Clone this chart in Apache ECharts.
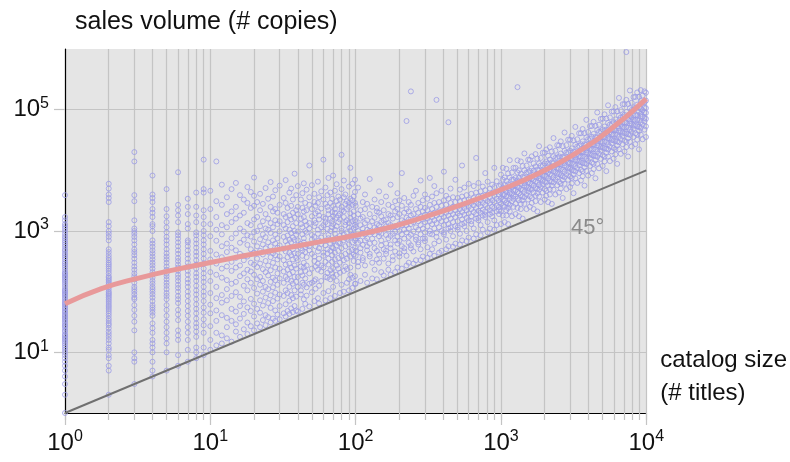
<!DOCTYPE html>
<html>
<head>
<meta charset="utf-8">
<script src="https://cdn.jsdelivr.net/npm/echarts@6/dist/echarts.min.js"></script>
<style>html,body{margin:0;padding:0;background:#fff;}#c{width:790px;height:462px;}</style>
</head>
<body>
<div id="c"></div>
<script>
// ---------- data ----------
// rows: [catalogSize, salesVolume, salesVolume, ...]
const lowCols = [
 [1, 1,2,3,4,5,6,7,8,9,10,11,12,13,14,15,16,17,18,19,20,22,23,25,27,28,30,32,34,36,38,40,42,45,47,50,53,56,60,63,66,70,75,80,85,90,95,100,105,110,120,130,140,150,160,170,180,190,200,210,230,250,270,290,310,340,370,400,430,470,500,550,600,650,700,760,820,900,1000,1100,1200,1300,1500,1700,3900],
 [2, 2,5,6,8,9,11,12,14,16,18,20,22,25,28,30,33,36,40,44,48,52,56,60,65,70,75,80,85,90,95,100,110,120,130,140,150,160,170,180,200,220,240,260,280,300,330,360,400,450,500,700,800,900,1000,1200,1400,3000,3500,4000,5000,6000],
 [3, 3,7,8,10,23,32,40,50,60,75,80,90,100,110,120,140,160,180,200,230,260,300,350,400,450,500,600,700,800,900,1000,1100,1500,3100,3900,14000,20000],
 [4, 4,5,7,10,12,14,16,21,25,30,40,45,50,55,60,70,80,90,100,110,120,135,150,170,190,210,240,270,300,340,380,430,480,550,620,700,1000,1200,1300,1700,2000,2300,3000,3500,4000,8200],
 [5, 5,10,14,17,21,26,32,40,50,60,75,85,95,110,125,140,160,180,200,230,260,300,340,380,430,500,600,700,800,950,1150,1400,1750,2300,4900],
 [6, 6,9,16,19,23,34,42,50,65,75,85,100,115,130,150,170,190,220,250,280,320,360,420,480,560,650,750,850,950,1400,1800,2200,2700,9300],
 [7, 7,11,16,21,26,32,40,48,58,70,85,100,120,140,160,190,220,260,300,350,410,480,560,650,700,1100,1300,1900,2500,3400],
 [8, 8,10,12,18,22,26,30,36,44,52,62,75,90,105,125,150,175,200,240,280,330,390,450,530,620,720,850,950,1400,1800,2500,4300],
 [9, 9,12,21,28,35,45,55,70,85,100,120,145,170,200,240,290,350,420,500,600,700,850,1000,1300,1700,2200,4300,4900,15000]
];
const decade1Rows = [
 [10, 11,16,27,44,61,95,150,210,340,470,820,1300,2300,4600],
 [11, 13,21,33,49,78,120,190,290,410,690,1050,1700,3100,14000],
 [12, 14,19,41,66,88,170,240,370,560,880,1250,2700,5800],
 [13, 17,26,37,72,110,155,260,450,620,1150,1900,3600],
 [14, 15,33,52,85,135,220,310,530,760,1400,2100,4900],
 [15, 22,29,47,98,145,250,360,480,910,1600,2500,6200],
 [16, 18,36,58,82,180,270,420,640,1100,1800,3900],
 [17, 24,43,69,125,200,330,390,720,980,2000,3300],
 [18, 20,31,55,105,160,230,380,590,850,1350,2900,5300],
 [19, 27,48,76,140,215,300,500,810,1250,2400,4400],
 [20, 23,39,63,115,190,280,440,670,960,1550,2600,3800,7600],
 [21, 30,52,93,160,255,350,560,1000,1700,3000],
 [22, 26,45,72,130,175,290,470,730,1200,2200,4100],
 [23, 34,59,100,150,235,410,600,880,1450,2800],
 [24, 28,41,80,120,210,320,520,790,1100,1900,5100],
 [25, 38,65,110,185,270,450,650,1050,1600,3400],
 [26, 31,54,87,145,225,370,560,930,1350,2500,6400],
 [27, 36,70,118,170,300,430,700,1150,2100,3700],
 [28, 33,49,96,155,250,400,620,870,1500,2300,4700],
 [29, 42,77,130,200,340,530,760,1300,2000],
 [30, 35,58,90,165,240,380,580,990,1450,2700,5600],
 [32, 44,85,140,215,330,510,800,1250,1900,3500],
 [33, 39,62,105,175,280,460,680,1100,1700,2900,6900],
 [34, 48,95,160,230,370,590,840,1400,2400],
 [35, 43,71,120,195,290,440,720,1050,1800,4300],
 [36, 53,88,150,250,400,650,930,1550,2600,5000],
 [37, 46,78,135,210,340,500,780,1200,2000,3300],
 [38, 58,105,175,270,430,710,1000,1650,8800],
 [39, 49,83,145,240,360,560,870,1350,2200,3900],
 [40, 47,120,175,330,420,700,980,1900,2500,5500],
 [42, 105,90,210,260,520,610,1300,1600,3300],
 [43, 52,140,185,390,480,880,1150,2400,4200],
 [44, 130,75,250,300,650,760,1700,2100,6100],
 [45, 63,165,220,450,540,1000,1450,2900],
 [46, 86,118,270,370,590,940,1250,2200,4800],
 [48, 57,135,200,480,560,1100,1350,2700,3600,12000],
 [50, 140,98,240,420,730,860,1750,2300,5700],
 [52, 70,150,320,380,800,1200,1500,3000,4100],
 [53, 160,112,260,560,650,1350,1950,2600],
 [55, 78,230,290,460,900,1050,2100,2900,6500],
 [56, 64,125,350,520,700,1550,1800,3600],
 [58, 150,215,270,610,780,1150,2350,4500],
 [60, 95,250,390,440,980,1250,1700,3300,15000],
 [62, 72,175,310,580,690,1400,1600,2800,5200],
 [64, 170,205,430,500,1080,1300,2500,3900],
 [65, 102,280,350,760,860,1900,2200,7500],
 [67, 78,160,225,470,620,1000,1600,2900,4300],
 [69, 200,310,400,540,1150,1450,2050,3400],
 [70, 120,175,245,520,680,1300,1750,2600,8200],
 [72, 85,340,440,900,1050,2000,2300,4600],
 [74, 150,190,270,580,760,1200,1650,3100,5900],
 [76, 240,360,470,640,1400,1800,2700,3700],
 [78, 95,205,300,630,830,1550,1950,3300],
 [80, 130,390,520,1000,1100,2200,2500,4900,18000],
 [83, 100,220,330,700,880,1700,2100,3600,6800],
 [85, 260,420,560,780,1250,1400,2800,4000],
 [87, 140,235,350,740,950,1500,2300,3100],
 [90, 105,160,460,600,1150,1350,2500,2900,5400],
 [92, 190,250,380,800,1020,1650,1950,3400,11000],
 [95, 115,170,490,650,870,1450,2700,3200,6000],
 [97, 320,410,860,1100,1800,2100,3700],
 [99, 135,180,530,700,1250,1500,2900,4400,7000]
];
const decade2Rows = [
 [100, 135,390,470,760,1150,1400,2600],
 [104, 260,310,640,820,1000,1900,5200],
 [108, 150,440,520,690,1250,1600,2200],
 [112, 330,360,590,930,1100,1700,3000],
 [116, 190,270,700,880,1350,2300,4000],
 [120, 140,480,560,760,1050,1500,2800],
 [125, 380,420,620,1000,1200,1900,7200],
 [130, 165,300,750,950,1450,2500],
 [135, 230,520,640,880,1150,1650,3300],
 [140, 160,340,470,1050,1300,2100,2400],
 [145, 300,410,820,960,1250,2000,4500],
 [150, 210,580,700,900,1400,1750,3000],
 [156, 185,350,500,1100,1500,2200],
 [162, 420,470,620,860,1200,1550,3700],
 [168, 230,290,760,1050,1350,1900,2700],
 [174, 190,520,600,830,1250,1800,5800],
 [180, 330,380,900,1150,1600,2500],
 [187, 210,460,700,980,1200,2100,3100],
 [194, 250,620,800,1150,1700,2300,4200],
 [200, 380,430,690,1000,1300,1900,3200],
 [208, 240,560,880,1250,1500,2600,9000],
 [216, 460,520,750,1050,1400,2000,3500],
 [224, 270,390,950,1250,1650,2300,65000],
 [232, 300,640,800,1100,1550,2100,3000],
 [240, 520,580,870,1300,1800,2700,200000],
 [250, 290,460,980,1400,1900,3800],
 [260, 330,720,800,1150,1600,2300,4600],
 [270, 600,650,1050,1450,2000,2900],
 [280, 330,500,880,1250,1700,2500,6800],
 [290, 380,750,1100,1550,2100,3200],
 [300, 680,750,950,1400,1850,2400,4000],
 [312, 360,540,1200,1600,2200,3400],
 [324, 420,900,1000,1450,1900,2700,7500],
 [336, 500,880,1300,1700,2300,3700],
 [348, 390,620,1100,1500,2000,2900,5500],
 [360, 800,940,1350,1800,2500,4200,145000],
 [375, 440,680,1150,1600,2100,3000],
 [390, 470,1000,1450,1900,2600,4600],
 [405, 880,950,1250,1700,2200,3200,9500],
 [420, 500,720,1500,2000,2700,3800],
 [435, 560,1100,1300,1800,2300,3400,62000],
 [450, 1000,1150,1600,2100,2900,5000],
 [468, 550,820,1400,1900,2500,3600],
 [486, 620,1200,1700,2200,3000,7000],
 [504, 1050,1150,1450,1950,2500,3500],
 [522, 600,900,1800,2300,3100,4800],
 [540, 700,1300,1550,2050,2600,3700,12000],
 [560, 1200,1350,1850,2400,3200,5200],
 [580, 680,1000,1650,2200,2800,3900],
 [600, 780,1500,1950,2500,3300,6000],
 [625, 1300,1450,1750,2300,2900,4100],
 [650, 750,1100,2050,2650,3500,5500],
 [675, 880,1600,1900,2400,3000,4300,16000],
 [700, 1500,1650,2150,2800,3700,6200],
 [725, 850,1250,2000,2550,3200,4500],
 [750, 1050,1800,2250,2900,3800,5400],
 [780, 1700,1850,2100,2700,3400,4700,9000],
 [810, 950,1400,2400,3100,4000,6500],
 [840, 1100,1900,2200,2900,3600,5000],
 [870, 1750,2000,2500,3200,4200,5800],
 [900, 1050,1500,2400,3000,3800,5300,11000],
 [935, 1250,2100,2600,3400,4400,6600],
 [970, 1900,2200,2500,3200,4000,5500]
];
const decade3Rows = [
 [1000, 1300,2100,2800,3500,4300,5700,8500],
 [1030, 1800,2600,3300,4000,5200,7000,11000],
 [1060, 1400,2500,3200,4000,4900,5700,7600],
 [1090, 1800,2200,2900,3700,4500,6700,10600],
 [1120, 1300,2400,2800,3700,5100,5900,8900],
 [1150, 2100,2700,3400,4200,4600,5700,7600,14700],
 [1190, 1750,3100,4200,5300,7000,9200],
 [1220, 2500,3400,3800,4700,5600,7000,11000],
 [1260, 1900,2800,3700,4700,5600,7500,11000],
 [1300, 2400,3400,4400,5300,6800,9200,14600,235000],
 [1330, 1750,3200,4200,5200,6500,7500,10000],
 [1370, 2300,2800,3900,4900,6000,8800,14000],
 [1410, 1600,3200,3700,4800,6700,7800,11800],
 [1450, 2800,3600,4400,5500,6100,7500,10000,19000],
 [1500, 2300,4000,5500,6900,9200,12000],
 [1540, 3300,4500,5100,6300,7500,9300,15000],
 [1580, 2500,3700,4900,6100,7400,9800,14800],
 [1630, 2900,3500,4800,6000,7300,10800,17000],
 [1680, 2300,4300,5600,6900,8600,9900,13000],
 [1730, 3100,3800,5100,6500,7900,11600,18500],
 [1780, 2100,4200,5000,6400,8800,10300,15600],
 [1830, 3700,4800,5800,7300,8000,9900,13000,25000],
 [1880, 3000,5300,7200,9100,12000,16000],
 [1940, 4300,5900,6700,8300,9800,12000,19500],
 [2000, 3300,4900,6500,8100,9800,13000,19500],
 [2050, 3800,4600,6300,8000,9700,14000,22000],
 [2110, 3000,5600,7400,9100,11300,13000,17400],
 [2170, 4000,4900,6700,8500,10300,15000,24000],
 [2240, 2800,5600,6500,8400,11700,13500,20500],
 [2300, 4800,6300,7700,9600,10600,13000,17000,34000],
 [2370, 4000,7000,9500,12000,16000,21000],
 [2440, 5700,7700,8800,10800,12900,16000,26000],
 [2510, 4300,6400,8600,10700,12800,17000,25700],
 [2580, 5000,6100,8300,10500,12800,18900,30000],
 [2660, 3500,6900,8000,10300,14400,16700,25000],
 [2740, 6000,7700,9500,11900,13100,16100,21000,42000],
 [2820, 4900,8600,11700,14800,19700,26000],
 [2900, 7000,9500,10800,13300,15900,19700,32000],
 [2990, 5300,7900,10600,13200,15800,21000,31700],
 [3070, 6100,7500,10200,12900,15600,23000,37000],
 [3160, 4200,8500,9900,12700,17600,20400,31000],
 [3250, 7400,9600,11800,14800,16300,20000,26600,52000],
 [3350, 6200,10900,14700,18600,24800,32500],
 [3450, 9000,12200,13900,17100,20400,25300,40800],
 [3550, 6800,10200,13600,17000,20400,27000,40800],
 [3650, 8000,9700,13300,16800,20400,30000,48000],
 [3760, 5600,11200,13000,16700,23200,27000,41000],
 [3870, 9800,12700,15600,19500,21500,26300,35000,68000],
 [3980, 8200,14300,19400,24500,32600,42800],
 [4100, 11800,16000,18200,22500,26700,33200,53500],
 [4220, 9000,13400,17900,22400,26900,35800,53800],
 [4340, 10500,12900,17500,22200,26900,39800,63000],
 [4470, 7400,14700,17200,22000,30600,35500,54000],
 [4600, 12800,16700,20600,25700,28300,34700,46300,90000],
 [4730, 10800,18800,25500,32300,43000,56500],
 [4870, 15500,21100,24000,29600,35200,43700,70500],
 [5010, 11800,17700,23600,29500,35400,47200,71000],
 [5160, 14000,17000,23300,29500,35700,52700,83700],
 [5310, 9700,19400,22700,29200,40500,47000,71300],
 [5460, 16900,22000,27000,33800,37200,45600,60800,118000],
 [5620, 14200,24800,33700,42600,56800,74500],
 [5790, 20500,27900,31600,39100,46500,57700,93000],
 [5960, 15600,23300,31100,38900,46700,62200,93400],
 [6130, 18300,22300,30500,38600,46700,69000,110000],
 [6310, 12800,25600,29900,38400,53400,62000,94000],
 [6490, 22300,29000,35700,44600,49100,60200,80300,156000],
 [6680, 18700,32800,44500,56200,74900,98300],
 [6880, 27000,36800,41700,51600,61400,76100,123000],
 [7080, 20500,30800,41000,51300,61600,82100,123000],
 [7290, 24200,29600,40400,51100,61900,91500,145000,890000],
 [7500, 16900,33700,39300,50600,70300,81500,124000],
 [7720, 29500,38400,47200,59000,64900,79700,106000,207000],
 [7940, 24700,43200,58600,74000,98700,130000],
 [8170, 35400,48300,54700,67600,80500,99800,161000],
 [8410, 27000,40600,54100,67600,81100,108000,162000],
 [8660, 32000,39000,53300,67500,81700,121000,192000],
 [8910, 22200,44500,51900,66700,92600,107000,163000],
 [9170, 38700,50300,61900,77400,85100,104000,139000,210000],
 [9440, 32500,56900,77200,97600,130000,171000],
 [9720, 46900,64000,72500,89600,107000,132000,200000],
 [9950, 35400,53100,70800,88500,106000,141000,190000]
];
// smoothed trend (pink curve), read at quarter decades
const trendX = [1, 1.78, 3.16, 5.62, 10, 17.8, 31.6, 56.2, 100, 178, 316, 562, 1000, 1778, 3162, 5623, 10000];
const trendY = [63, 112, 166, 229, 302, 398, 513, 661, 851, 1175, 1778, 2818, 4786, 8710, 18200, 46800, 151000];
// 45 degree reference line
const diagX = [1, 10000];
const diagY = [1, 10000];
// ticks
const xMajorTicks = [1, 10, 100, 1000, 10000];
const xAllTicks = [1,2,3,4,5,6,7,8,9,10,20,30,40,50,60,70,80,90,100,200,300,400,500,600,700,800,900,1000,2000,3000,4000,5000,6000,7000,8000,9000,10000];
const yTicks = [10, 1000, 100000];
const angleText = '45°';
const angleLabelAt = [3950, 1140];

// ---------- build ----------
function rowsToPairs(rows) {
  const out = [];
  rows.forEach(r => { for (let i = 1; i < r.length; i++) out.push([r[0], r[i]]); });
  return out;
}
const points = [].concat(rowsToPairs(lowCols), rowsToPairs(decade1Rows), rowsToPairs(decade2Rows), rowsToPairs(decade3Rows));

const FONT = 'Liberation Sans';
const gridColor = '#c4c4c4';
const supFmt = v => '{b|10}{s|' + Math.round(Math.log10(v)) + '}';
const richLab = {
  b: { fontSize: 24, lineHeight: 28, fontFamily: FONT, color: '#111' },
  s: { fontSize: 16, lineHeight: 17, fontFamily: FONT, color: '#111', verticalAlign: 'top' }
};

const chart = echarts.init(document.getElementById('c'), null, { renderer: 'canvas' });
chart.setOption({
  animation: false,
  backgroundColor: '#ffffff',
  grid: { left: 65, top: 49, width: 584, height: 364, show: true, backgroundColor: '#e5e5e5', borderWidth: 0, containLabel: false },
  xAxis: [
    {
      type: 'log', logBase: 10, min: 1, max: 10000, position: 'bottom',
      axisLine: { show: true, lineStyle: { color: '#000', width: 1.2 } },
      axisTick: { show: true, customValues: xAllTicks, length: 7, lineStyle: { color: gridColor, width: 1.2 } },
      axisLabel: { show: false },
      splitLine: { show: true, lineStyle: { color: gridColor, width: 1.2 } },
      minorTick: { show: false },
      name: 'catalog size\n(# titles)', nameLocation: 'end', nameGap: 14,
      nameTextStyle: { fontFamily: FONT, fontSize: 24, color: '#111', align: 'left', verticalAlign: 'bottom', lineHeight: 33, padding: [0, 0, 3, 0] }
    },
    {
      type: 'log', logBase: 10, min: 1, max: 10000, position: 'bottom', offset: 0,
      axisLine: { show: false },
      axisTick: { show: true, customValues: xMajorTicks, length: 12, lineStyle: { color: gridColor, width: 1.2 } },
      axisLabel: { show: true, customValues: xMajorTicks, margin: 16, formatter: supFmt, rich: richLab },
      splitLine: { show: false }
    }
  ],
  yAxis: {
    type: 'log', logBase: 10, min: 1, max: 1000000,
    axisLine: { show: true, lineStyle: { color: '#000', width: 1.2 } },
    axisTick: { show: true, customValues: yTicks, length: 11, lineStyle: { color: gridColor, width: 1.2 } },
    axisLabel: { show: true, customValues: yTicks, margin: 16, formatter: supFmt, rich: richLab },
    splitLine: { show: true, lineStyle: { color: gridColor, width: 1.2 } },
    name: 'sales volume (# copies)', nameLocation: 'end', nameGap: 14,
    nameTextStyle: { fontFamily: FONT, fontSize: 25, color: '#111', align: 'left', padding: [0, 0, 0, 10] }
  },
  series: [
    {
      type: 'scatter', xAxisIndex: 0, data: points, symbol: 'circle', symbolSize: 5, z: 2,
      itemStyle: { color: 'rgba(0,0,0,0)', borderColor: '#9b9be6', borderWidth: 1 },
      emphasis: { disabled: true }, silent: true
    },
    {
      type: 'line', xAxisIndex: 0, data: diagX.map((x, i) => [x, diagY[i]]), symbol: 'none', z: 3,
      lineStyle: { color: '#707070', width: 2 }, silent: true,
      markPoint: {
        symbol: 'circle', symbolSize: 0, silent: true,
        label: { show: true, position: 'inside', formatter: angleText, fontFamily: FONT, fontSize: 22, color: '#8a8a8a' },
        data: [{ coord: angleLabelAt }]
      }
    },
    {
      type: 'line', xAxisIndex: 0, data: trendX.map((x, i) => [x, trendY[i]]), symbol: 'none', smooth: true, z: 4,
      lineStyle: { color: '#e8999a', width: 5 }, silent: true
    }
  ]
});
</script>
</body>
</html>
